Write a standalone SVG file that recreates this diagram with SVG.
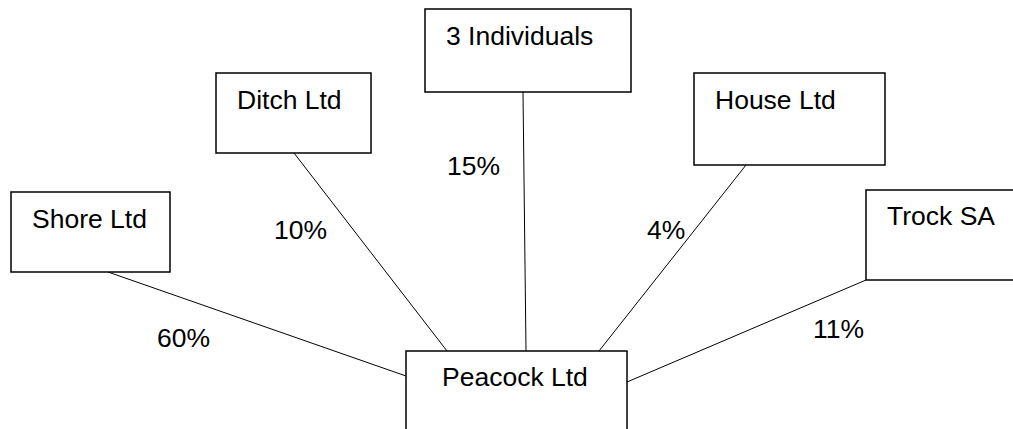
<svg xmlns="http://www.w3.org/2000/svg" width="1013" height="429" viewBox="0 0 1013 429">
<style>
.box{fill:#fff;stroke:#000;stroke-width:1.5}
.lbl{font-family:"Liberation Sans",Arial,sans-serif;font-size:26.5px;fill:#000}
.conn line{stroke:#000;stroke-width:1}
</style>
<rect width="1013" height="429" fill="#fff"/>
<g id="connectors" class="conn">
<line x1="108" y1="272" x2="406" y2="376"/>
<line x1="294" y1="153" x2="447" y2="351"/>
<line x1="523" y1="92" x2="526" y2="351"/>
<line x1="746" y1="165" x2="599" y2="351"/>
<line x1="866" y1="280" x2="627" y2="382"/>
</g>
<g id="shore"><rect class="box" x="11" y="192" width="159" height="80"/><text class="lbl" x="32" y="228">Shore Ltd</text></g>
<g id="ditch"><rect class="box" x="216" y="73" width="155" height="80"/><text class="lbl" x="237" y="109">Ditch Ltd</text></g>
<g id="individuals"><rect class="box" x="425" y="9" width="206" height="83"/><text class="lbl" x="446" y="45">3 Individuals</text></g>
<g id="house"><rect class="box" x="694" y="73" width="191" height="92"/><text class="lbl" x="715" y="109">House Ltd</text></g>
<g id="trock"><rect class="box" x="866" y="190" width="160" height="90"/><text class="lbl" x="887" y="225">Trock SA</text></g>
<g id="peacock"><rect class="box" x="406" y="351" width="221" height="90"/><text class="lbl" x="442" y="386">Peacock Ltd</text></g>
<g id="labels">
<text class="lbl" x="447" y="175">15%</text>
<text class="lbl" x="274" y="239">10%</text>
<text class="lbl" x="647" y="239">4%</text>
<text class="lbl" x="157" y="347">60%</text>
<text class="lbl" x="813" y="338">11%</text>
</g>
</svg>
